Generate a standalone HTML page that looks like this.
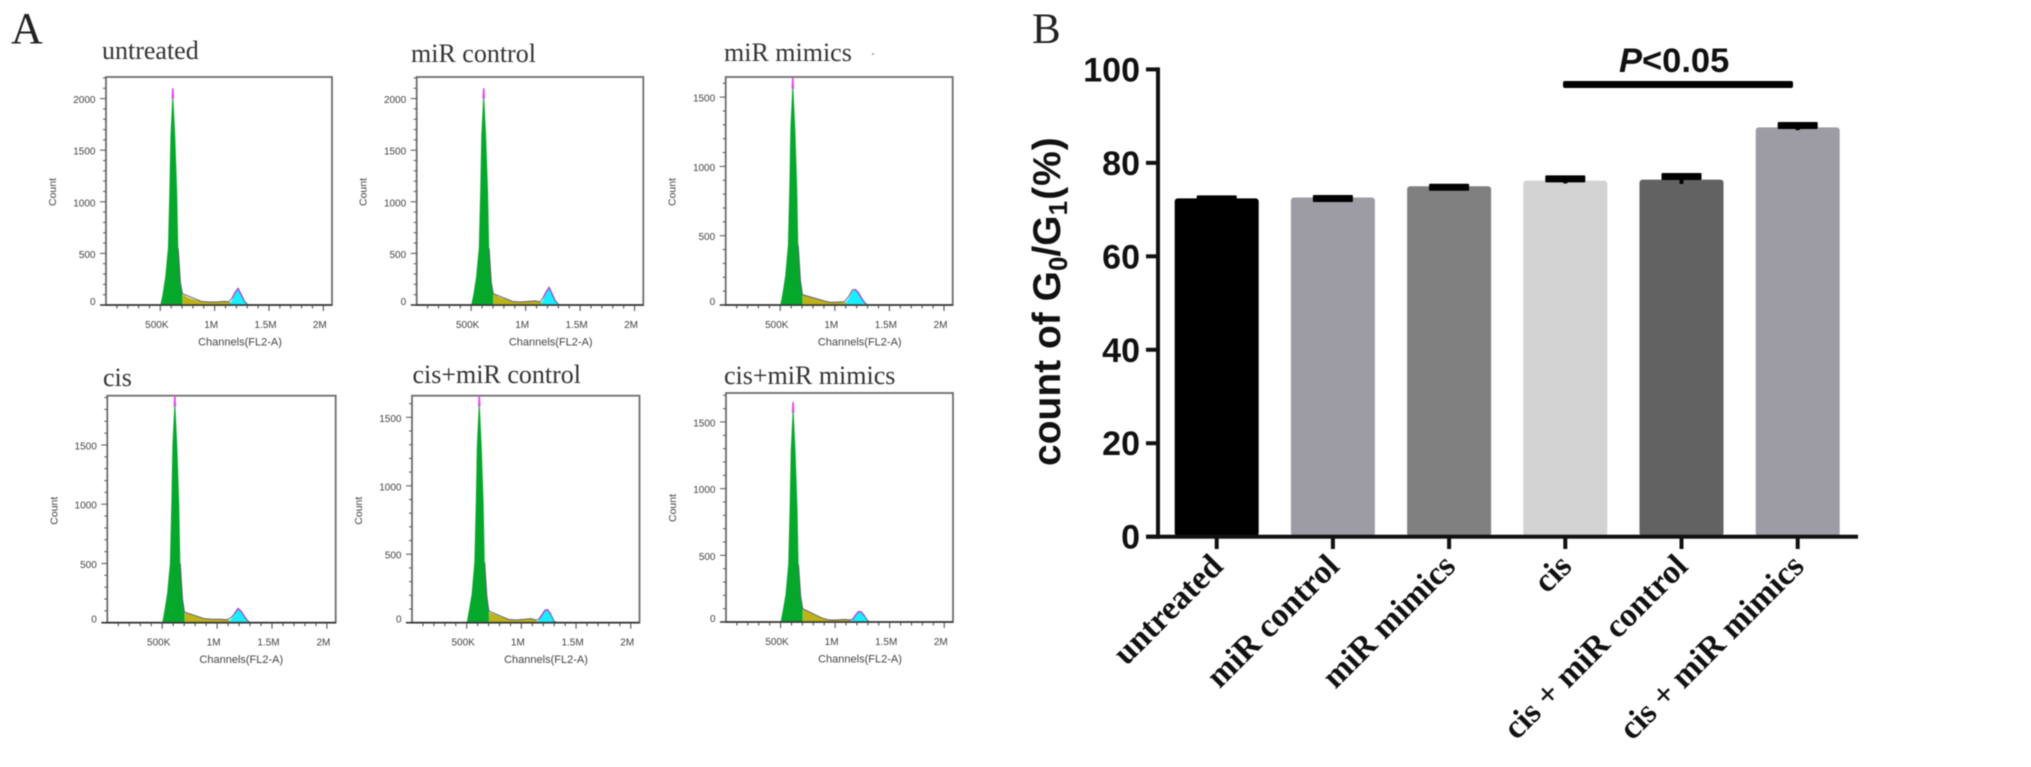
<!DOCTYPE html>
<html lang="en">
<head>
<meta charset="utf-8">
<title>Cell cycle histograms and G0/G1 bar chart</title>
<style>
html,body{margin:0;padding:0;background:#fff;width:2031px;height:767px;overflow:hidden}
svg{display:block;filter:blur(0.6px)}
.serif{font-family:"Liberation Serif",serif}
.sans{font-family:"Liberation Sans",sans-serif}
</style>
</head>
<body>
<svg id="figure" width="2031" height="767" viewBox="0 0 2031 767" xmlns="http://www.w3.org/2000/svg">
  <rect x="0" y="0" width="2031" height="767" fill="#ffffff"/>
  <text class="serif" x="11" y="43" font-size="44" fill="#222">A</text>
  <text class="serif" x="1032" y="43" font-size="43" fill="#222">B</text>
  <rect x="872" y="53" width="2" height="2" fill="#aaa"/>
  <g id="histograms"></g>
  <g id="bars"></g>
  <text class="sans" transform="translate(1060,466) rotate(-90)" font-size="39" font-weight="700" fill="#111">count of G<tspan font-size="26" dy="7">0</tspan><tspan dy="-7">/G</tspan><tspan font-size="26" dy="7">1</tspan><tspan dy="-7" dx="1">(</tspan><tspan dx="1">%</tspan><tspan dx="1">)</tspan></text>
  <text class="sans" x="1619" y="72" font-size="34.5" font-weight="700" fill="#111"><tspan font-style="italic">P</tspan>&lt;0.05</text>
  <rect x="1563" y="81" width="230" height="7" rx="2" fill="#000"/>
</svg>
<script>
// ---- Bar chart data ----
const barCategories = ["untreated", "miR control", "miR mimics", "cis", "cis + miR control", "cis + miR mimics"];
const barValues = [72.4, 72.6, 75.0, 76.2, 76.4, 87.6];
const barErrors = [0.1, 0.0, 0.0, 0.6, 0.9, 0.6];
const barColors = ["#000000", "#9d9ca4", "#808080", "#d3d3d3", "#626262", "#9d9ca4"];
const barTickLabels = [0, 20, 40, 60, 80, 100];

// ---- Histogram data ----
const histTitles = ["untreated", "miR control", "miR mimics", "cis", "cis+miR control", "cis+miR mimics"];
const g1Channels = [500, 520, 545, 570, 583, 593, 610, 615, 620, 637, 655, 665, 685, 703];
const tailChannels = [705, 760, 820, 880, 950, 1020, 1090, 1130, 1160, 1190, 1215, 1240, 1270, 1300, 1330];
const xTickValues = [500, 1000, 1500, 2000];
const xTickLabels = ["500K", "1M", "1.5M", "2M"];

const untreatedG1 = [0, 100, 270, 550, 1100, 1640, 2000, 2100, 2000, 1640, 1090, 550, 220, 110];
const untreatedS = [100, 70, 50, 35, 30, 30, 35, 30, 20, 10, 0, 0, 0, 0, 0];
const untreatedG2 = [0, 0, 0, 0, 0, 0, 0, 0, 45, 115, 160, 110, 45, 8, 0];
const untreatedTicks = [0, 500, 1000, 1500, 2000];

const controlG1 = [0, 100, 270, 550, 1100, 1640, 2000, 2100, 2000, 1640, 1090, 550, 220, 110];
const controlS = [110, 75, 55, 35, 30, 35, 40, 30, 20, 10, 0, 0, 0, 0, 0];
const controlG2 = [0, 0, 0, 0, 0, 0, 0, 0, 50, 120, 170, 115, 45, 8, 0];
const controlTicks = [0, 500, 1000, 1500, 2000];

const mimicsG1 = [0, 80, 210, 430, 850, 1280, 1560, 1640, 1560, 1280, 850, 430, 180, 75];
const mimicsS = [75, 60, 45, 35, 20, 20, 20, 15, 8, 0, 0, 0, 0, 0, 0];
const mimicsG2 = [0, 0, 0, 0, 0, 0, 5, 50, 100, 110, 90, 55, 20, 0, 0];
const mimicsTicks = [0, 500, 1000, 1500];

const cisG1 = [0, 100, 250, 500, 1000, 1500, 1825, 1925, 1825, 1500, 1000, 500, 200, 90];
const cisS = [85, 70, 50, 35, 30, 30, 25, 15, 5, 0, 0, 0, 0, 0, 0];
const cisG2 = [0, 0, 0, 0, 0, 0, 0, 30, 75, 120, 100, 65, 25, 0, 0];
const cisTicks = [0, 500, 1000, 1500];

const cisControlG1 = [0, 90, 210, 440, 860, 1290, 1580, 1664, 1580, 1290, 860, 440, 190, 85];
const cisControlS = [75, 60, 40, 25, 20, 25, 30, 20, 5, 0, 0, 0, 0, 0, 0];
const cisControlG2 = [0, 0, 0, 0, 0, 0, 0, 0, 20, 60, 90, 95, 60, 10, 0];
const cisControlTicks = [0, 500, 1000, 1500];

const cisMimicsG1 = [0, 85, 205, 430, 850, 1280, 1570, 1650, 1570, 1280, 850, 430, 190, 100];
const cisMimicsS = [100, 75, 50, 30, 15, 15, 20, 15, 5, 0, 0, 0, 0, 0, 0];
const cisMimicsG2 = [0, 0, 0, 0, 0, 0, 0, 0, 15, 55, 78, 75, 45, 8, 0];
const cisMimicsTicks = [0, 500, 1000, 1500];

const histG1 = [untreatedG1, controlG1, mimicsG1, cisG1, cisControlG1, cisMimicsG1];
const histS = [untreatedS, controlS, mimicsS, cisS, cisControlS, cisMimicsS];
const histG2 = [untreatedG2, controlG2, mimicsG2, cisG2, cisControlG2, cisMimicsG2];
const histTicks = [untreatedTicks, controlTicks, mimicsTicks, cisTicks, cisControlTicks, cisMimicsTicks];
const histYMax = [2209, 2209, 1645, 1916, 1658, 1717];
const xDomainMax = 2080;

// ---- Layout (not data) ----
const frames = [
  {l: 106, r: 332, t: 77, b: 305, tx: 102, ty: 59},
  {l: 416.7, r: 643.3, t: 77, b: 305, tx: 411, ty: 62},
  {l: 725.7, r: 952.7, t: 77, b: 305, tx: 724, ty: 61},
  {l: 107.3, r: 335.7, t: 395.7, b: 622.7, tx: 103, ty: 386},
  {l: 412, r: 639.5, t: 395.7, b: 622.7, tx: 412.5, ty: 383},
  {l: 726, r: 953, t: 393, b: 622, tx: 724, ty: 384}
];
const SVGNS = "http://www.w3.org/2000/svg";
function mk(parent, tag, attrs, text) {
  const el = document.createElementNS(SVGNS, tag);
  for (const k in attrs) el.setAttribute(k, attrs[k]);
  if (text !== undefined) el.textContent = text;
  parent.appendChild(el);
  return el;
}
const SANS = '"Liberation Sans", sans-serif';
const SERIF = '"Liberation Serif", serif';

// ---- Histograms ----
const histRoot = document.getElementById("histograms");
histTitles.forEach(function (title, p) {
  const f = frames[p];
  const xS = function (c) { return f.l + c / xDomainMax * (f.r - f.l); };
  const yS = function (c) { return f.b - Math.min(c, histYMax[p]) / histYMax[p] * (f.b - f.t); };
  const g = mk(histRoot, "g", {});
  
  

  const tEl = mk(g, "text", {x: f.tx, y: f.ty, "font-size": 26, fill: "#333", "font-family": SERIF}, title);
  
  

  const plot = mk(g, "rect", {x: f.l, y: f.t, width: f.r - f.l, height: f.b - f.t, fill: "#fff", stroke: "#6d6d6d", "stroke-width": 1.8});
  
  

  const g1 = histG1[p], s = histS[p], g2 = histG2[p];
  const g1Pts = g1Channels.map(function (c, i) { return xS(c) + "," + yS(g1[i]); });
  const green = mk(g, "polygon", {points: g1Pts.join(" ") + " " + xS(703) + "," + yS(0), fill: "#06a82c"});
  
  

  const sPts = tailChannels.map(function (c, i) { return xS(c) + "," + yS(s[i]); });
  const olive = mk(g, "polygon", {points: xS(703) + "," + yS(0) + " " + sPts.join(" ") + " " + xS(1330) + "," + yS(0), fill: "#bdb31a"});
  
  

  const g2Pts = tailChannels.map(function (c, i) { return xS(c) + "," + yS(g2[i]); });
  const cyan = mk(g, "polygon", {points: xS(705) + "," + yS(0) + " " + g2Pts.join(" ") + " " + xS(1330) + "," + yS(0), fill: "#18eefc"});
  
  

  const totalPts = tailChannels.map(function (c, i) { return xS(c) + "," + yS(s[i] + g2[i]); });
  const outlineDark = mk(g, "polyline", {points: g1Pts.slice(11).concat(totalPts.slice(3)).join(" "), fill: "none", stroke: "#5a5670", "stroke-width": 0.9});
  
  
  const outlineTop = mk(g, "polyline", {points: g1Pts.slice(6, 9).join(" "), fill: "none", stroke: "#e050e8", "stroke-width": 1.6});
  
  
  const outlineG2 = mk(g, "polyline", {points: totalPts.slice(8, 13).join(" "), fill: "none", stroke: "#b040d0", "stroke-width": 1.3});
  
  

  const base = mk(g, "line", {x1: f.l - 6, x2: f.r, y1: f.b, y2: f.b, stroke: "#333", "stroke-width": 1.6});
  
  

  // minor & major ticks
  for (let c = 100; c <= 2000; c += 100) {
    const major = c % 500 === 0;
    const tick = mk(g, "line", {x1: xS(c), x2: xS(c), y1: f.b, y2: f.b + (major ? 6 : 3.5), stroke: "#444", "stroke-width": 1});
    
    
  }
  for (let c = 100; c < histYMax[p]; c += 100) {
    const major = c % 500 === 0;
    const tick = mk(g, "line", {x1: f.l - (major ? 6 : 3), x2: f.l, y1: yS(c), y2: yS(c), stroke: "#555", "stroke-width": 1});
    
    
  }
  xTickValues.forEach(function (c, i) {
    const lab = mk(g, "text", {x: xS(c) - 3.5, y: f.b + 23, "font-size": 10, fill: "#444", "text-anchor": "middle", "font-family": SANS}, xTickLabels[i]);
    
    
  });
  histTicks[p].forEach(function (c) {
    const lab = mk(g, "text", {x: f.l - 10.5, y: yS(c) + (c === 0 ? 0 : 4.5), "font-size": 10, fill: "#444", "text-anchor": "end", "font-family": SANS}, String(c));
    
    
  });
  const xt = mk(g, "text", {x: f.l + 134, y: f.b + 40.5, "font-size": 11, fill: "#444", "text-anchor": "middle", "font-family": SANS}, "Channels(FL2-A)");
  
  
  const yt = mk(g, "text", {transform: "translate(" + (f.l - 50) + "," + (f.t + 115) + ") rotate(-90)", "font-size": 10.5, fill: "#444", "text-anchor": "middle", "font-family": SANS}, "Count");
  
  
});

// ---- Bar chart ----
const barRoot = document.getElementById("bars");
const barY = function (v) { return 536.7 - v * 4.673; };
const barX = function (i) { return 1216.7 + i * 116.2; };
const barW = 84;

barCategories.forEach(function (name, i) {
  const top = barY(barValues[i]);
  const bar = mk(barRoot, "rect", {x: barX(i) - barW / 2, y: top, width: barW, height: 536 - top, rx: 3, fill: barColors[i]});
  
  
  const cap = mk(barRoot, "rect", {x: barX(i) - 20, y: barY(barValues[i] + barErrors[i]) - 2.5, width: 40, height: 7, rx: 1, fill: "#000"});
  
  
  const stem = mk(barRoot, "rect", {x: barX(i) - 2, y: barY(barValues[i] + barErrors[i]), width: 4, height: barErrors[i] * 2 * 4.673, fill: "#000"});
  
  
  const tick = mk(barRoot, "rect", {x: barX(i) - 2, y: 536, width: 4, height: 13, fill: "#111"});
  
  
  const lab = mk(barRoot, "text", {transform: "translate(" + (barX(i) + 8) + ",568) rotate(-45)", "font-size": 33.5, "font-weight": 700, fill: "#111", "text-anchor": "end", "font-family": SERIF}, name);
  
  
});
barTickLabels.forEach(function (v) {
  const tick = mk(barRoot, "rect", {x: 1146, y: barY(v) - 2, width: 13, height: 4, fill: "#111"});
  
  
  const lab = mk(barRoot, "text", {x: 1140, y: barY(v) + 12, "font-size": 34, "font-weight": 700, fill: "#111", "text-anchor": "end", "font-family": SANS}, String(v));
  
  
});
const yAxis = mk(barRoot, "rect", {x: 1156, y: barY(100) - 2, width: 4, height: barY(0) - barY(100) + 4, fill: "#111"});


const xAxis = mk(barRoot, "rect", {x: 1146, y: barY(0) - 2, width: 712, height: 4, fill: "#111"});


</script>
</body>
</html>
